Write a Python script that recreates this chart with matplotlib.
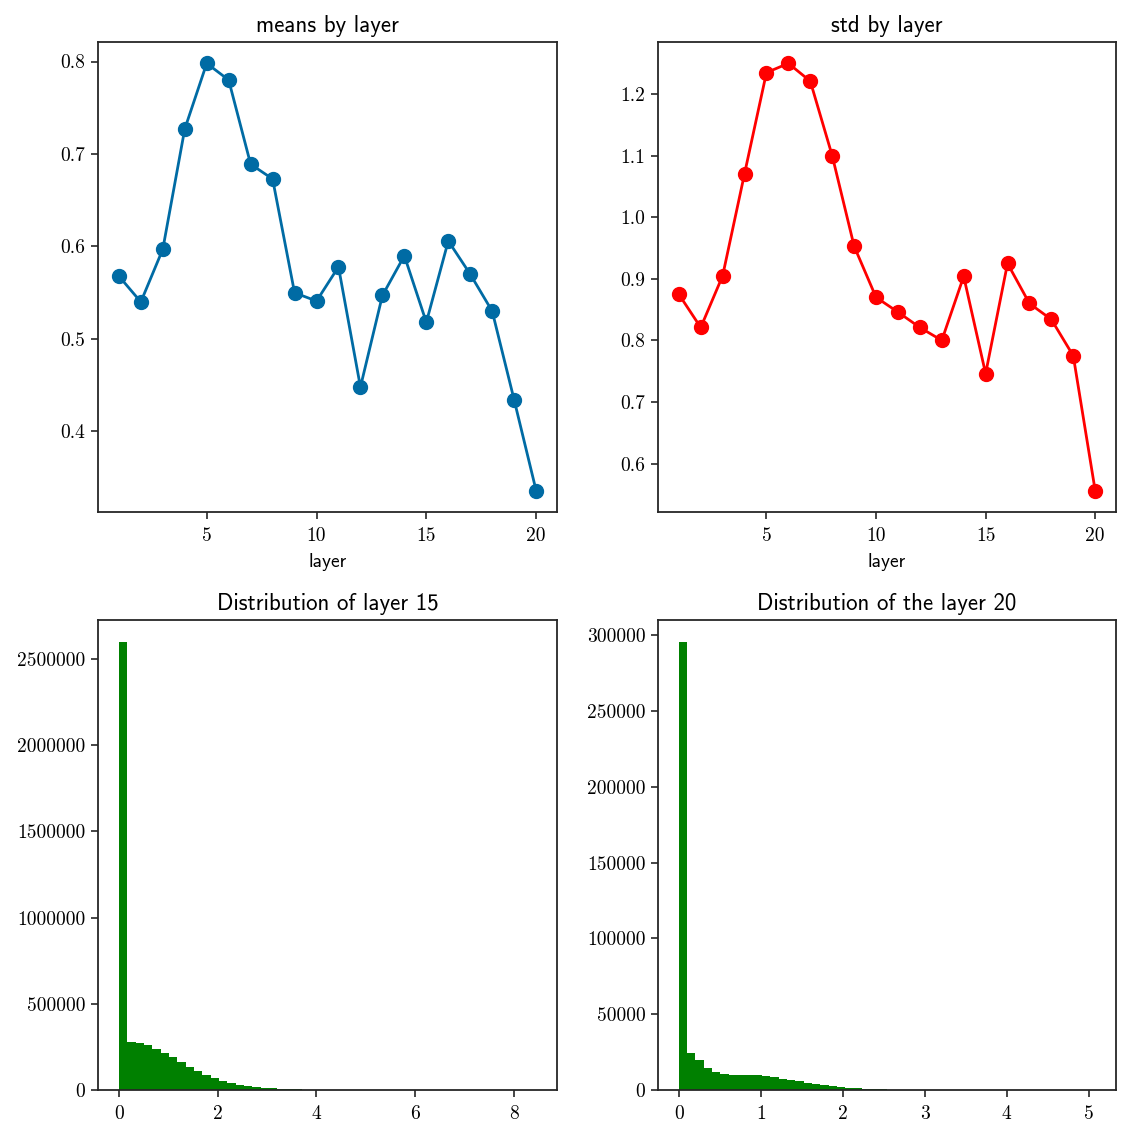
import numpy as np
import matplotlib
matplotlib.use("Agg")
import matplotlib.pyplot as plt

layers = list(range(1, 21))
means = [0.568, 0.540, 0.597, 0.727, 0.798, 0.780, 0.689, 0.673, 0.550, 0.541,
         0.578, 0.448, 0.547, 0.590, 0.518, 0.606, 0.570, 0.530, 0.434, 0.336]
stds = [0.875, 0.821, 0.905, 1.071, 1.235, 1.250, 1.221, 1.100, 0.953, 0.870,
        0.846, 0.821, 0.800, 0.904, 0.746, 0.925, 0.860, 0.834, 0.775, 0.556]

hist15_max = 8.45
hist15_counts = [2596000, 277000, 271000, 259000, 240000, 217000, 194000, 164000, 135000, 112000,
                 89000, 71000, 54000, 42000, 31000, 25000, 19000, 13000, 12000, 7500,
                 6000, 3500, 2500, 1800, 1200, 800, 500, 350, 250, 180,
                 120, 90, 60, 45, 30, 22, 16, 12, 9, 7,
                 5, 4, 3, 2, 2, 1, 1, 1, 0, 1]
hist20_max = 5.08
hist20_counts = [295400, 24600, 19800, 14500, 11900, 10800, 10100, 10100, 10100, 10000,
                 9400, 8600, 7500, 6600, 5900, 4800, 4200, 3500, 2900, 2200,
                 1500, 1000, 800, 500, 400, 300, 250, 200, 120, 80,
                 50, 35, 25, 18, 12, 9, 6, 4, 3, 2,
                 2, 1, 1, 1, 1, 0, 0, 1, 0, 1]

titles = ["means by layer", "std by layer", "Distribution of layer 15", "Distribution of the layer 20"]

TITLE_FONT = ["cmss10", "DejaVu Sans"]
TICK_FONT = ["cmr10", "DejaVu Serif"]
SPINE = "#262626"

W, H = 1134, 1137
fig = plt.figure(figsize=(W / 100, H / 100), dpi=100)

def add_ax(l, r, t, b):
    return fig.add_axes([l / W, 1 - b / H, (r - l) / W, (b - t) / H])

ax1 = add_ax(98, 557, 42, 512)
ax2 = add_ax(658, 1116, 42, 512)
ax3 = add_ax(98, 557, 620, 1090)
ax4 = add_ax(658, 1116, 620, 1090)

ax1.plot(layers, means, color="#006BA4", marker="o", markersize=10, linewidth=2)
ax2.plot(layers, stds, color="red", marker="o", markersize=10, linewidth=2)

def draw_hist(ax, counts, vmax):
    n = len(counts)
    edges = np.linspace(0, vmax, n + 1)
    centers = (edges[:-1] + edges[1:]) / 2
    ax.hist(centers, bins=edges, weights=counts, color="green")
    ax.ticklabel_format(axis="y", style="plain", useOffset=False)

draw_hist(ax3, hist15_counts, hist15_max)
draw_hist(ax4, hist20_counts, hist20_max)

for ax, t in zip([ax1, ax2, ax3, ax4], titles):
    ax.set_title(t, family=TITLE_FONT, fontsize=16.5, pad=7)
    for s in ax.spines.values():
        s.set_color(SPINE)
        s.set_linewidth(1.3)
    ax.tick_params(length=5, width=1.2, color=SPINE, labelsize=14, pad=4)
    ax.tick_params(axis="x", pad=5.5)

for ax in (ax1, ax2):
    ax.set_xlabel("layer", family=TITLE_FONT, fontsize=14, labelpad=6)
    ax.set_xticks([5, 10, 15, 20])

fig.canvas.draw()
for ax in (ax1, ax2, ax3, ax4):
    for lab in ax.get_xticklabels() + ax.get_yticklabels():
        lab.set_family(TICK_FONT)

fig.savefig("out.png", dpi=100)
